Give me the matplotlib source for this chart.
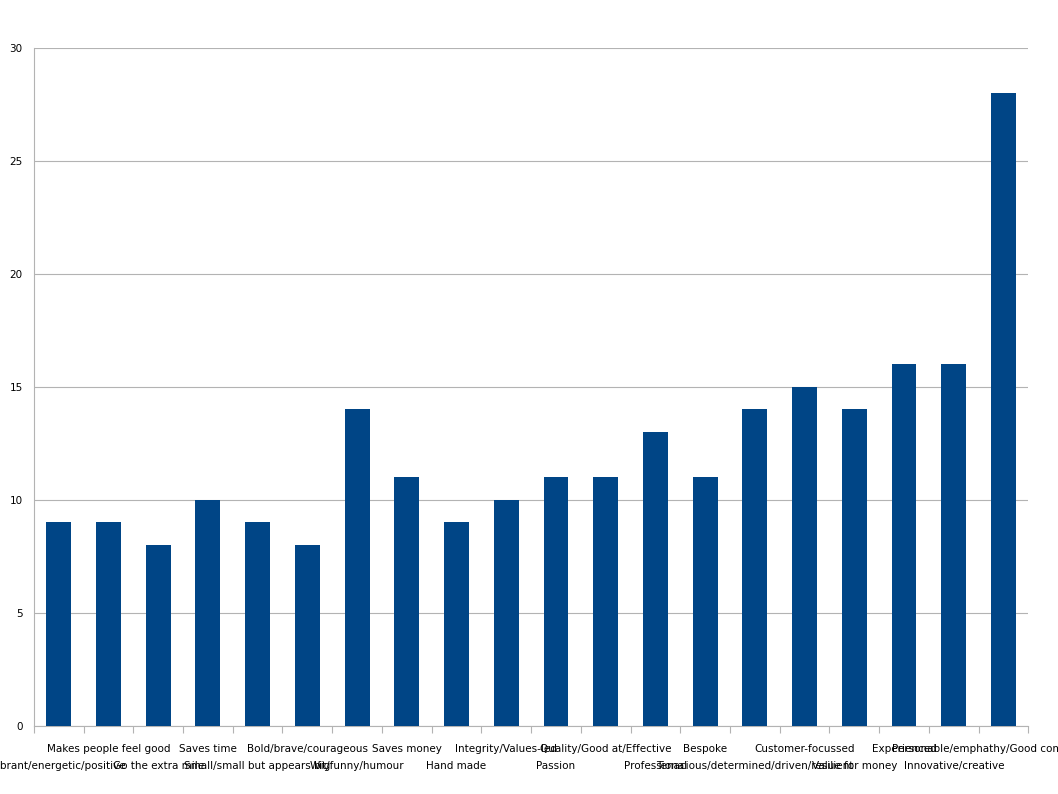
import matplotlib
matplotlib.use("Agg")
import matplotlib.pyplot as plt

plt.rcParams['font.family'] = ['Liberation Sans Narrow', 'DejaVu Sans']

categories = ["Vibrant/energetic/positive", "Makes people feel good", "Go the extra mile", "Saves time",
              "Small/small but appears big", "Bold/brave/courageous", "Wit/funny/humour", "Saves money",
              "Hand made", "Integrity/Values-led", "Passion", "Quality/Good at/Effective", "Professional",
              "Bespoke", "Tenacious/determined/driven/resilient", "Customer-focussed", "Value for money",
              "Experienced", "Innovative/creative", "Personable/emphathy/Good communicator"]
values = [9, 9, 8, 10, 9, 8, 14, 11, 9, 10, 11, 11, 13, 11, 14, 15, 14, 16, 16, 28]
yticks = [0, 5, 10, 15, 20, 25, 30]

fig = plt.figure(figsize=(10.58, 7.94), dpi=100)
ax = fig.add_axes([0.032, 0.086, 0.940, 0.854])
x = list(range(len(categories)))
ax.bar(x, values, width=0.5, color="#004586", zorder=3)
ax.set_xlim(-0.5, len(categories) - 0.5)
ax.set_ylim(0, 30)
ax.set_yticks(yticks)
ax.set_yticklabels([str(v) for v in yticks], fontsize=7.5)
ax.yaxis.grid(True, color="#b3b3b3", linewidth=0.8, zorder=0)
ax.tick_params(axis="y", length=0, pad=8)
ax.set_xticks([i - 0.5 for i in range(len(categories) + 1)])
ax.set_xticklabels([])
ax.tick_params(axis="x", length=5, color="#b3b3b3", direction="out")
for s in ["top", "right"]:
    ax.spines[s].set_visible(False)
ax.spines["left"].set_color("#b3b3b3")
ax.spines["bottom"].set_color("#b3b3b3")
for i, lab in enumerate(categories):
    yoff = -0.035 if i % 2 == 1 else -0.06
    ax.text(i, yoff, lab, transform=ax.get_xaxis_transform(), ha="center", va="center",
            fontsize=7.5, clip_on=False)
fig.savefig("out.png", dpi=100)
